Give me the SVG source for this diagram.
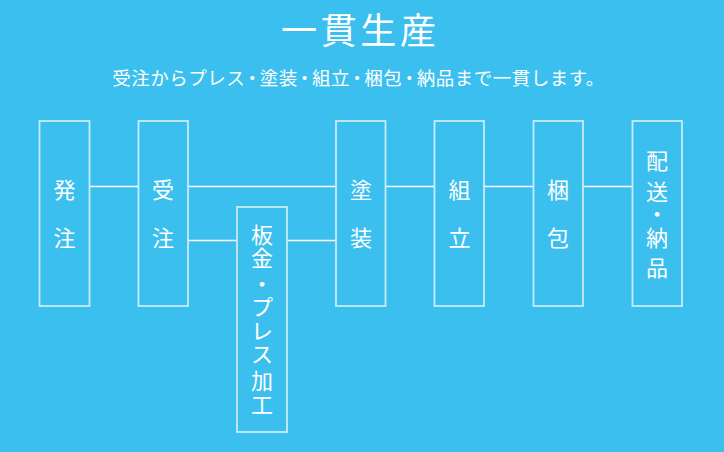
<svg xmlns="http://www.w3.org/2000/svg" width="724" height="452" viewBox="0 0 724 452">
<style>
.box{fill:none;stroke:#c6ecfa;stroke-width:1.8}
.ln{stroke:#ffffff;stroke-width:1.4;fill:none}
text{font-family:"Noto Sans CJK JP","Noto Sans",sans-serif;fill:#ffffff}
.v{font-size:22px;text-anchor:middle}
</style>
<rect width="724" height="452" fill="#3bbfef"/>
<text x="281" y="44" font-size="36" textLength="155" lengthAdjust="spacing">一貫生産</text>
<text x="112.3" y="85" font-size="18.5" letter-spacing="0.5">受注からプレス<tspan dx="-2.35">・</tspan><tspan dx="-2.35">塗</tspan>装<tspan dx="-2.35">・</tspan><tspan dx="-2.35">組</tspan>立<tspan dx="-2.35">・</tspan><tspan dx="-2.35">梱</tspan>包<tspan dx="-2.35">・</tspan><tspan dx="-2.35">納</tspan>品まで一貫します。</text>
<g id="connectors">
<line class="ln" x1="89.5" y1="186.5" x2="138.5" y2="186.5"/>
<line class="ln" x1="188" y1="186.5" x2="336" y2="186.5"/>
<line class="ln" x1="188" y1="240.5" x2="237" y2="240.5"/>
<line class="ln" x1="287" y1="240.5" x2="336" y2="240.5"/>
<line class="ln" x1="385.5" y1="186.5" x2="434.5" y2="186.5"/>
<line class="ln" x1="484" y1="186.5" x2="533.5" y2="186.5"/>
<line class="ln" x1="583" y1="186.5" x2="632.5" y2="186.5"/>
</g>
<g id="node-hatchu">
<rect class="box" x="39.5" y="121" width="50" height="185"/>
<text class="v" x="64.5" y="198">発</text>
<text class="v" x="64.5" y="246">注</text>
</g>
<g id="node-juchu">
<rect class="box" x="138.5" y="121" width="49.5" height="185"/>
<text class="v" x="163" y="198">受</text>
<text class="v" x="163" y="246">注</text>
</g>
<g id="node-bankin">
<rect class="box" x="237" y="207" width="50" height="225"/>
<text class="v" x="262" y="243">板</text>
<text class="v" x="262" y="266">金</text>
<text class="v" x="262" y="292">・</text>
<text class="v" x="262" y="315">プ</text>
<text class="v" x="262" y="339">レ</text>
<text class="v" x="262" y="362">ス</text>
<text class="v" x="262" y="389">加</text>
<text class="v" x="262" y="413">工</text>
</g>
<g id="node-toso">
<rect class="box" x="336" y="121" width="49.5" height="185"/>
<text class="v" x="361" y="198">塗</text>
<text class="v" x="361" y="246">装</text>
</g>
<g id="node-kumitate">
<rect class="box" x="434.5" y="121" width="49.5" height="185"/>
<text class="v" x="459.5" y="198">組</text>
<text class="v" x="459.5" y="246">立</text>
</g>
<g id="node-konpo">
<rect class="box" x="533.5" y="121" width="49.5" height="185"/>
<text class="v" x="558" y="198">梱</text>
<text class="v" x="558" y="246">包</text>
</g>
<g id="node-haiso">
<rect class="box" x="632.5" y="121" width="49.5" height="185"/>
<text class="v" x="657" y="169">配</text>
<text class="v" x="657" y="200">送</text>
<text class="v" x="657" y="222">・</text>
<text class="v" x="657" y="246">納</text>
<text class="v" x="657" y="276">品</text>
</g>
</svg>
